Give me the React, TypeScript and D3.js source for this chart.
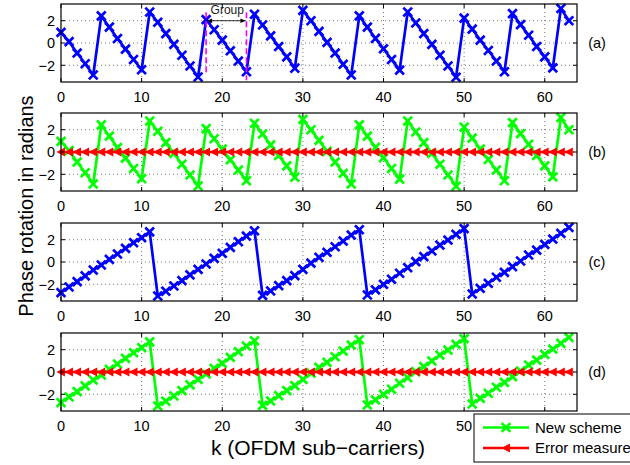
import React from 'react';
import * as d3 from 'd3';

// Subcarrier index k
const subcarriers: number[] = d3.range(64);

// Phase rotation (rad) per subcarrier, before correction
const phaseBefore: number[] = [
  0.95, 0.12, -0.9, -1.86, -2.87, 2.43, 1.42, 0.4, -0.55, -1.48, -2.4, 2.78, 1.86, 0.84, -0.12, -1.1,
  -2.06, -3.05, 2.1, 1.19, 0.26, -0.7, -1.62, -2.58, 2.58, 1.62, 0.64, -0.32, -1.25, -2.26, 2.93, 2.0,
  1.04, 0.06, -0.9, -1.91, -2.87, 2.43, 1.42, 0.41, -0.52, -1.48, -2.43, 2.78, 1.8, 0.84, -0.12, -1.1,
  -2.06, -3.07, 2.23, 1.25, 0.26, -0.67, -1.62, -2.58, 2.64, 1.65, 0.7, -0.32, -1.25, -2.23, 3.1, 2.0,
];

// Phase rotation (rad) per subcarrier, second case
const phaseAfter: number[] = [
  -2.75, -2.24, -1.76, -1.25, -0.72, -0.27, 0.24, 0.72, 1.22, 1.73, 2.18, 2.7, -3.05, -2.62, -2.15, -1.67,
  -1.16, -0.66, -0.18, 0.33, 0.78, 1.31, 1.82, 2.33, 2.8, -3.0, -2.6, -2.12, -1.67, -1.22, -0.66, -0.1,
  0.42, 0.87, 1.37, 1.88, 2.42, 2.9, -2.96, -2.5, -2.0, -1.55, -1.01, -0.51, 0.03, 0.48, 0.99, 1.52,
  1.97, 2.48, 3.0, -2.87, -2.36, -1.91, -1.37, -0.93, -0.42, 0.09, 0.63, 1.07, 1.58, 2.06, 2.57, 3.1,
];

// Residual error after the new scheme
const errorMeasure: number[] = [
  0, 0, 0, 0, 0, 0, 0, 0, 0, 0, 0, 0, 0, 0, 0, 0,
  0, 0, 0, 0, 0, 0, 0, 0, 0, 0, 0, 0, 0, 0, 0, 0,
  0, 0, 0, 0, 0, 0, 0, 0, 0, 0, 0, 0, 0, 0, 0, 0,
  0, 0, 0, 0, 0, 0, 0, 0, 0, 0, 0, 0, 0, 0, 0, 0,
];

const xTicks: number[] = [0, 10, 20, 30, 40, 50, 60];
const yTicks: number[] = [-2, 0, 2];
const panelLabels: string[] = ['(a)', '(b)', '(c)', '(d)'];
const groupBounds: number[] = [18, 23];
const groupDashes: [number, number][] = [[2.75, -2.9], [2.75, -3.35]];
const legendLabels: string[] = ['New scheme', 'Error measure'];

const BLUE = '#0000ff';
const GREEN = '#00ff00';
const RED = '#ff0000';
const FONT = '"Liberation Sans", Arial, Helvetica, sans-serif';

const W = 630;
const H = 465;
const LEFT = 61;
const RIGHT = 577;
const PANEL_TOPS = [4, 113, 223, 333];
const PANEL_H = 78;
const TICK_FONT = 14.5;

type Series = { values: number[]; color: string; marker: 'x' | 'tri' };

const panels: Series[][] = [
  [{ values: phaseBefore, color: BLUE, marker: 'x' }],
  [
    { values: phaseBefore, color: GREEN, marker: 'x' },
    { values: errorMeasure, color: RED, marker: 'tri' },
  ],
  [{ values: phaseAfter, color: BLUE, marker: 'x' }],
  [
    { values: phaseAfter, color: GREEN, marker: 'x' },
    { values: errorMeasure, color: RED, marker: 'tri' },
  ],
];

const x = d3.scaleLinear().domain([0, 64]).range([LEFT, RIGHT]);

function Marker({ kind, cx, cy, color }: { kind: 'x' | 'tri'; cx: number; cy: number; color: string }) {
  if (kind === 'x') {
    const s = 3.4;
    return (
      <path
        d={`M${cx - s},${cy - s}L${cx + s},${cy + s}M${cx - s},${cy + s}L${cx + s},${cy - s}`}
        stroke={color}
        strokeWidth={2.7}
        strokeLinecap="square"
      />
    );
  }
  const w = 3.3;
  const h = 3.6;
  return (
    <path
      d={`M${cx - w},${cy}L${cx + w},${cy - h}L${cx + w},${cy + h}Z`}
      fill={color}
      stroke={color}
      strokeWidth={1.2}
    />
  );
}

function Panel({ index }: { index: number }) {
  const top = PANEL_TOPS[index];
  const bottom = top + PANEL_H;
  const y = d3.scaleLinear().domain([-3.5, 3.5]).range([bottom, top]);
  const line = d3
    .line<number>()
    .x((_, i) => x(subcarriers[i]))
    .y((v) => y(v));

  return (
    <g>
      <rect x={LEFT} y={top} width={RIGHT - LEFT} height={PANEL_H} fill="#fff" />
      {/* dotted grid */}
      {xTicks.filter((t) => t > 0).map((t) => (
        <line key={'gx' + t} x1={x(t)} x2={x(t)} y1={top} y2={bottom}
          stroke="#555" strokeWidth={0.8} strokeDasharray="1 3" />
      ))}
      {yTicks.map((t) => (
        <line key={'gy' + t} x1={LEFT} x2={RIGHT} y1={y(t)} y2={y(t)}
          stroke="#555" strokeWidth={0.8} strokeDasharray="1 3" />
      ))}
      {/* series */}
      {panels[index].map((s, si) => (
        <g key={si}>
          <path d={line(s.values) || ''} fill="none" stroke={s.color} strokeWidth={2.7} strokeLinejoin="round" />
          {s.values.map((v, i) => (
            <Marker key={i} kind={s.marker} cx={x(subcarriers[i])} cy={y(v)} color={s.color} />
          ))}
        </g>
      ))}
      {/* group annotation */}
      {index === 0 && (
        <g>
          {groupBounds.map((k, i) => (
            <line key={'gd' + k} x1={x(k)} x2={x(k)} y1={y(groupDashes[i][0])} y2={y(groupDashes[i][1])}
              stroke="#ff00ff" strokeWidth={1.6} strokeDasharray="6 3" />
          ))}
          <line x1={x(groupBounds[0]) + 1} x2={x(groupBounds[1]) - 1} y1={y(2)} y2={y(2)} stroke="#000" strokeWidth={0.8} />
          <path
            d={`M${x(groupBounds[0]) + 1},${y(2)}l5,-2.2l0,4.4Z M${x(groupBounds[1]) - 1},${y(2)}l-5,-2.2l0,4.4Z`}
            fill="#000"
          />
          <text x={(x(groupBounds[0]) + x(groupBounds[1])) / 2 + 1} y={y(2) - 6.5} textAnchor="middle"
            fontSize={12} fontFamily={FONT} fill="#222">Group</text>
        </g>
      )}
      {/* ticks */}
      {xTicks.map((t) => (
        <g key={'tx' + t}>
          <line x1={x(t)} x2={x(t)} y1={bottom} y2={bottom - 4} stroke="#000" strokeWidth={1} />
          <line x1={x(t)} x2={x(t)} y1={top} y2={top + 4} stroke="#000" strokeWidth={1} />
          <text x={x(t)} y={bottom + 19.5} textAnchor="middle" fontSize={TICK_FONT} fontFamily={FONT} fill="#000">{t}</text>
        </g>
      ))}
      {yTicks.map((t) => (
        <g key={'ty' + t}>
          <line x1={LEFT} x2={LEFT + 4} y1={y(t)} y2={y(t)} stroke="#000" strokeWidth={1} />
          <line x1={RIGHT} x2={RIGHT - 4} y1={y(t)} y2={y(t)} stroke="#000" strokeWidth={1} />
          <text x={LEFT - 6} y={y(t) + 5.3} textAnchor="end" fontSize={TICK_FONT} fontFamily={FONT} fill="#000">
            {t < 0 ? '\u2212' + Math.abs(t) : String(t)}
          </text>
        </g>
      ))}
      <rect x={LEFT} y={top} width={RIGHT - LEFT} height={PANEL_H} fill="none" stroke="#000" strokeWidth={1.2} />
      <text x={597} y={y(0) + 5.3} textAnchor="middle" fontSize={TICK_FONT} fontFamily={FONT} fill="#000">
        {panelLabels[index]}
      </text>
    </g>
  );
}

export default function App() {
  const legendX = 474;
  const legendY = 414;
  const legendSeries: Series[] = [panels[1][0], panels[1][1]];
  return (
    <svg width={W} height={H} viewBox={`0 0 ${W} ${H}`}
      style={{ position: 'absolute', left: 0, top: 0, background: '#fff' }}>
      <rect x={0} y={0} width={W} height={H} fill="#fff" />
      {panels.map((_, i) => (
        <Panel key={i} index={i} />
      ))}
      <text transform={`translate(33,206) rotate(-90)`} textAnchor="middle" fontSize={20} fontFamily={FONT} fill="#000">
        Phase rotation in radians
      </text>
      <text x={318} y={455} textAnchor="middle" fontSize={21} fontFamily={FONT} fill="#000">
        k (OFDM sub{'\u2212'}carriers)
      </text>
      {/* legend */}
      <g>
        <rect x={legendX} y={legendY} width={170} height={48} fill="#fff" stroke="#000" strokeWidth={1} />
        {legendSeries.map((s, i) => {
          const ly = legendY + 13.5 + i * 20.5;
          return (
            <g key={i}>
              <line x1={483} x2={529} y1={ly} y2={ly} stroke={s.color} strokeWidth={2.7} />
              <Marker kind={s.marker} cx={506} cy={ly} color={s.color} />
              <text x={535} y={ly + 5.3} fontSize={15} fontFamily={FONT} fill="#000">{legendLabels[i]}</text>
            </g>
          );
        })}
      </g>
    </svg>
  );
}
